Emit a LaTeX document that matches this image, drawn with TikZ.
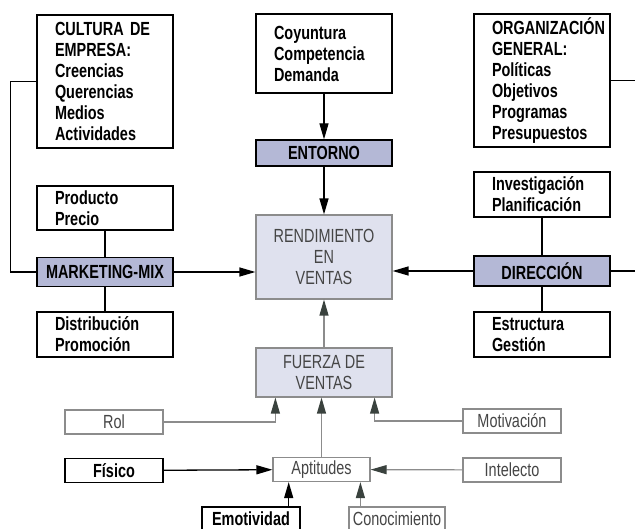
\documentclass[tikz,border=0pt]{standalone}
\usepackage{fontspec}
\setmainfont{Liberation Sans}[FakeStretch=0.76]
\usetikzlibrary{arrows.meta, positioning, calc}
\definecolor{darkfill}{HTML}{B4B8D6}
\definecolor{lightfill}{HTML}{DFE1EE}
\definecolor{greytext}{HTML}{454545}
\definecolor{greyline}{HTML}{8C8C8C}
\definecolor{greytip}{HTML}{3A423E}

\begin{document}
\begin{tikzpicture}[x=1pt, y=-1pt, >={Triangle[length=16pt, width=9pt]},
  txt/.style={font=\fontsize{19}{21}\selectfont},
  listbox/.style={draw, line width=1.3pt, text width=100pt, inner xsep=18pt,
                  inner ysep=0pt, align=left, font=\fontsize{19}{21}\selectfont\bfseries},
  titlebox/.style={draw, line width=1.3pt, fill=darkfill, minimum width=136pt,
                   inner sep=0pt, font=\fontsize{19}{21}\selectfont\bfseries},
  mainbox/.style={draw=greyline, line width=1.2pt, fill=lightfill, minimum width=136pt,
                  inner sep=0pt, align=center, text=greytext, txt},
  factor/.style={draw=greyline, line width=1.2pt, minimum width=98pt, minimum height=24pt,
                 inner sep=0pt, text=greytext, txt},
  factorbold/.style={draw, line width=1.4pt, minimum width=98pt, minimum height=24pt,
                     inner sep=0pt, font=\fontsize{19}{21}\selectfont\bfseries},
  link/.style={line width=1.3pt},
  greylink/.style={line width=1.2pt, draw=greyline, -{Triangle[length=16pt, width=9pt, color=greytip]}}]
  \useasboundingbox (0,0) rectangle (635,529);

  % Top row
  \node[listbox, minimum height=133pt] (cultura) at (105,81.5)
    {CULTURA DE\\EMPRESA:\\Creencias\\Querencias\\Medios\\Actividades};
  \node[listbox, minimum height=79pt] (coyun) at (324,53.5)
    {Coyuntura\\Competencia\\Demanda};
  \node[listbox, minimum height=133pt] (organ) at (542,80.5)
    {ORGANIZACIÓN\\GENERAL:\\Políticas\\Objetivos\\Programas\\Presupuestos};

  % Centre column
  \node[titlebox, minimum height=26pt] (entorno) at (324,153) {ENTORNO};
  \node[mainbox, minimum height=84pt] (rend) at (324,257) {RENDIMIENTO\\EN\\VENTAS};
  \node[mainbox, minimum height=49pt] (fuerza) at (324,372.5) {FUERZA DE\\VENTAS};

  % Left column
  \node[listbox, minimum height=44pt] (producto) at (105,208) {Producto\\Precio};
  \node[titlebox, minimum height=29pt] (marketing) at (105,272) {MARKETING-MIX};
  \node[listbox, minimum height=45pt] (distrib) at (105,334.5) {Distribución\\Promoción};

  % Right column
  \node[listbox, minimum height=45pt] (invest) at (542,194.5) {Investigación\\Planificación};
  \node[titlebox, minimum height=30pt] (direccion) at (542,271) {DIRECCIÓN};
  \node[listbox, minimum height=45pt] (estruct) at (542,334.5) {Estructura\\Gestión};

  % Factors
  \node[factor] (rol) at (114,422) {Rol};
  \node[factor] (motiv) at (512,421) {Motivación};
  \node[factor, minimum width=97pt] (aptitudes) at (321.5,469.5) {Aptitudes};
  \node[factorbold] (fisico) at (114,470.5) {Físico};
  \node[factor] (intelecto) at (512,470) {Intelecto};
  \node[factorbold] (emotiv) at (251,519) {Emotividad};
  \node[factor, minimum width=96pt] (conoc) at (397,519) {Conocimiento};

  % Connectors
  \draw[link, ->] (coyun) -- (entorno);
  \draw[link, ->] (entorno) -- (rend);
  \draw[link, ->] (marketing.east) -- (marketing.east -| rend.west);
  \draw[link, ->] (direccion.west) -- (direccion.west -| rend.east);
  \draw[link] (cultura.west) -- ++(-26,0) |- (marketing.west);
  \draw[link] (producto) -- (marketing);
  \draw[link] (marketing) -- (distrib);
  \draw[link] (invest) -- (direccion);
  \draw[link] (direccion) -- (estruct);
  \draw[link] (organ.east) -- ++(30,0);
  \draw[link] (direccion.east) -- ++(30,0);

  \coordinate (rol in) at ($(fuerza.south west)+(20,0)$);
  \coordinate (motiv in) at ($(fuerza.south east)+(-18,0)$);
  \coordinate (emo up) at ($(emotiv.north east)+(-12,0)$);
  \coordinate (con up) at ($(conoc.north west)+(12,0)$);
  \draw[greylink] (fuerza) -- (rend);
  \draw[greylink] (aptitudes) -- (aptitudes.north |- fuerza.south);
  \draw[greylink] (rol.east) -| (rol in);
  \draw[greylink] (motiv.west) -| (motiv in);
  \draw[greylink] (intelecto) -- (aptitudes);
  \draw[greylink] (con up) -- (con up |- aptitudes.south);
  \draw[link, ->] (fisico) -- (aptitudes);
  \draw[link, ->] (emo up) -- (emo up |- aptitudes.south);
\end{tikzpicture}
\end{document}
